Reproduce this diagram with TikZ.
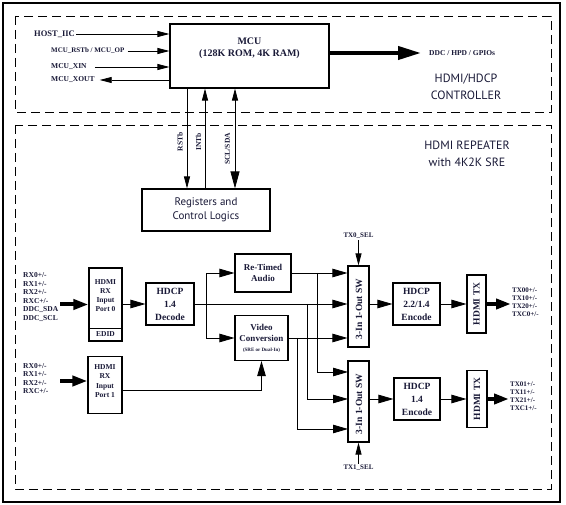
\documentclass[tikz,border=0pt]{standalone}
\usepackage{fontspec}
\setmainfont{Liberation Serif}
\setsansfont{PT Sans}
\usetikzlibrary{arrows.meta}
\definecolor{ink}{RGB}{25,25,55}

\begin{document}
\begin{tikzpicture}[x = 1pt, y = -1pt,
  box/.style = {draw, line width = 1.1pt, inner sep = 0pt, text = ink, align = center,
    font = \bfseries\fontsize{9.5}{13}\selectfont},
  lbl/.style = {inner sep = 1pt, text = ink, align = left,
    font = \bfseries\fontsize{7.5}{8.5}\selectfont},
  side/.style = {rotate = 90, inner sep = 1pt, text = ink,
    font = \bfseries\fontsize{7.5}{8.5}\selectfont},
  vtext/.style = {rotate = 90, inner sep = 0pt, text = ink,
    font = \bfseries\fontsize{9.5}{11}\selectfont},
  title/.style = {text = ink, align = center, font = \sffamily\fontsize{12}{17.5}\selectfont},
  arr/.style = {line width = 0.8pt, -{Triangle[length = 12pt, width = 6pt]}},
  arrb/.style = {line width = 0.8pt, -{Triangle[length = 15pt, width = 8.5pt]}},
  fat/.style = {line width = 4pt, -{Triangle[length = 15pt, width = 10pt]}},
  zone/.style = {line width = 0.9pt, dash pattern = on 9pt off 5pt}]

  \useasboundingbox (0, 0) rectangle (566, 505);
  \draw[line width = 1.2pt] (3, 3) rectangle (560, 502);
  \draw[zone] (15, 16) rectangle (551, 112);
  \draw[zone] (15, 125) rectangle (551, 489);

  % controller
  \node[box, minimum width = 159pt, minimum height = 64pt] (mcu) at (249.5, 56) {};
  \node[text = ink, align = center, font = \bfseries\fontsize{10}{12}\selectfont]
    (mcutxt) at (249.5, 48) {MCU\\(128K ROM, 4K RAM)};

  \node[lbl, anchor = west, font = \bfseries\fontsize{8.5}{9}\selectfont] (hostiic) at (33, 34) {HOST\_IIC};
  \node[lbl, anchor = west, font = \bfseries\fontsize{7}{8}\selectfont] (rstop) at (50, 51) {MCU\_RSTb / MCU\_OP};
  \node[lbl, anchor = west] (xin) at (50, 67) {MCU\_XIN};
  \node[lbl, anchor = west] (xout) at (50, 80) {MCU\_XOUT};
  \draw[arr] (hostiic.east) -- (hostiic.east -| mcu.west);
  \draw[arr] ([xshift = 2pt]rstop.east) -- (rstop.east -| mcu.west);
  \draw[arr] ([xshift = 7pt]xin.east) -- (xin.east -| mcu.west);
  \draw[arr] (xout.east -| mcu.west) -- ([xshift = 4pt]xout.east);

  \node[lbl, anchor = west, font = \bfseries\fontsize{7.5}{8.5}\selectfont] (ddc) at (428, 53) {DDC / HPD / GPIOs};
  \draw[line width = 4pt, -{Triangle[length = 23pt, width = 13pt]}]
    (ddc.west -| mcu.east) -- ([xshift = -7pt]ddc.west);

  \node[title] (ctrl) at (466, 87) {HDMI/HDCP\\CONTROLLER};

  % registers
  \node[box, font = \sffamily\fontsize{11}{14}\selectfont, minimum width = 128pt,
    minimum height = 42pt] (regs) at (206, 210) {Registers and\\Control Logics};

  \coordinate (xrst) at (187, 0);
  \coordinate (xint) at (205, 0);
  \coordinate (xscl) at (235, 0);
  \draw[arr] (mcu.south -| xrst) -- (regs.north -| xrst);
  \draw[arr] (regs.north -| xint) -- (mcu.south -| xint);
  \draw[line width = 0.8pt, {Triangle[length = 12pt, width = 6pt]}-{Triangle[length = 17pt, width = 9pt]}]
    (mcu.south -| xscl) -- (regs.north -| xscl);
  \node[side] (rstb) at (180, 142) {RSTb};
  \node[side] (intb) at (198.5, 142) {INTb};
  \node[side] (sclsda) at (227.5, 149) {SCL/SDA};

  % repeater
  \node[title] (rep) at (467, 154) {HDMI REPEATER\\with 4K2K SRE};

  \node[box, minimum width = 33pt, minimum height = 73pt] (port0) at (105.5, 304.5) {};
  \draw[line width = 1.1pt] ([yshift = 13pt]port0.south west) -- ([yshift = 13pt]port0.south east);
  \node[lbl, align = center, font = \bfseries\fontsize{7.5}{9}\selectfont]
    (port0txt) at (105.5, 296) {HDMI\\RX\\Input\\Port 0};
  \node[lbl] (edid) at (105.5, 334.5) {EDID};
  \node[lbl, anchor = west] (rxa) at (22, 297)
    {RX0+/-\\RX1+/-\\RX2+/-\\RXC+/-\\DDC\_SDA\\DDC\_SCL};
  \draw[fat] ([xshift = 1pt]rxa.east |- port0.west) -- (port0.west);

  \node[box, minimum width = 48pt, minimum height = 42pt] (dec) at (170, 304) {HDCP\\1.4\\Decode};
  \draw[arrb] (port0.east |- dec.west) -- (dec.west);

  \node[box, minimum width = 34pt, minimum height = 57pt] (port1) at (105, 385) {};
  \node[lbl, align = center, font = \bfseries\fontsize{7.5}{9.5}\selectfont]
    (port1txt) at (105, 381) {HDMI\\RX\\Input\\Port 1};
  \node[lbl, anchor = west] (rxb) at (22, 378.5) {RX0+/-\\RX1+/-\\RX2+/-\\RXC+/-};
  \draw[fat] ([xshift = 1pt]rxa.east |- port1txt) -- (port1txt -| port1.west);

  \node[box, font = \bfseries\fontsize{9}{11}\selectfont, minimum width = 56pt,
    minimum height = 38pt] (audio) at (263, 273) {Re-Timed\\Audio};
  \node[box, font = \bfseries\fontsize{9}{11}\selectfont, minimum width = 53pt,
    minimum height = 45pt] (video) at (261.5, 338)
    {Video\\Conversion\\[-1pt]{\fontsize{5}{6}\selectfont (SRE or Dual-In)}};

  \coordinate (bdec) at (206, 0);
  \draw[arrb] (dec.east -| bdec) |- (audio.west);
  \draw[arrb] (dec.east -| bdec) |- (video.west);
  \draw[arrb] ([yshift = -5pt]port1.east) -| (video.south);

  % switches
  \node[box, minimum width = 21pt, minimum height = 81pt] (sw1) at (358.5, 306.5) {};
  \node[vtext] (sw1txt) at (359, 309) {3-In 1-Out SW};
  \node[box, minimum width = 21pt, minimum height = 81pt] (sw2) at (358.5, 401.5) {};
  \node[vtext] (sw2txt) at (359, 404) {3-In 1-Out SW};

  \draw[arrb] (audio.east) -- (audio.east -| sw1.west);
  \draw[arrb] (dec.east) -- (dec.east -| sw1.west);
  \draw[arrb] (video.east) -- (video.east -| sw1.west);

  \coordinate (ba) at (317, 0);
  \coordinate (bd) at (307, 0);
  \coordinate (bv) at (297, 0);
  \coordinate (s2a) at (348, 372);
  \coordinate (s2b) at (348, 399);
  \coordinate (s2c) at (348, 429);
  \draw[arrb] (audio.east -| ba) |- (s2a);
  \draw[arrb] (dec.east -| bd) |- (s2b);
  \draw[arrb] (video.east -| bv) |- (s2c);

  \node[lbl, font = \bfseries\fontsize{7}{8}\selectfont] (tx0sel) at (358.5, 236) {TX0\_SEL};
  \draw[arr] (tx0sel.south) -- (sw1.north);
  \node[lbl, font = \bfseries\fontsize{7}{8}\selectfont] (tx1sel) at (358.5, 468) {TX1\_SEL};
  \draw[arr] (tx1sel.north) -- (sw2.south);

  % output 0
  \node[box, minimum width = 47pt, minimum height = 42pt] (enc1) at (416.5, 304) {HDCP\\2.2/1.4\\Encode};
  \draw[arrb] (sw1.east |- enc1.west) -- (enc1.west);
  \node[box, minimum width = 19pt, minimum height = 58pt] (tx1) at (476.5, 304) {};
  \node[vtext] (tx1txt) at (tx1) {HDMI TX};
  \draw[arrb] (enc1.east) -- (tx1.west);
  \node[lbl, anchor = west, font = \bfseries\fontsize{7}{8}\selectfont] (txa) at (511, 302)
    {TX00+/-\\TX10+/-\\TX20+/-\\TXC0+/-};
  \draw[fat] (tx1.east) -- (tx1.east -| txa.west);

  % output 1
  \node[box, minimum width = 46pt, minimum height = 42pt] (enc2) at (417, 399) {HDCP\\1.4\\Encode};
  \draw[arrb] (sw2.east |- enc2.west) -- (enc2.west);
  \node[box, minimum width = 20pt, minimum height = 57pt] (tx2) at (477, 399) {};
  \node[vtext] (tx2txt) at (tx2) {HDMI TX};
  \draw[arrb] (enc2.east) -- (tx2.west);
  \node[lbl, anchor = west, font = \bfseries\fontsize{7}{8}\selectfont] (txb) at (509, 396.5)
    {TX01+/-\\TX11+/-\\TX21+/-\\TXC1+/-};
  \draw[fat] (tx2.east) -- (tx2.east -| txb.west);
\end{tikzpicture}
\end{document}
